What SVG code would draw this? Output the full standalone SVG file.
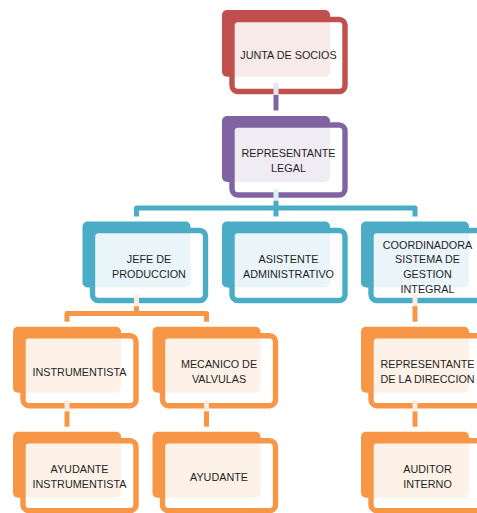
<svg xmlns="http://www.w3.org/2000/svg" width="477" height="513" viewBox="0 0 477 513">
<style>
.bk{stroke:none}
.fr{fill:#fff;fill-opacity:0.88;stroke-width:5.4}
.r{fill:#C0504D;stroke:#C0504D}
.p{fill:#8064A2;stroke:#8064A2}
.t{fill:#4BACC6;stroke:#4BACC6}
.o{fill:#F79646;stroke:#F79646}
text{font-family:"Liberation Sans",Arial,sans-serif;font-size:10.8px;fill:#1e1e1e;stroke:none;text-anchor:middle}
.c{fill:none;stroke-width:5;stroke-linejoin:round}
</style>
<defs>
<rect id="b" class="bk" width="108" height="66" rx="5"/>
<rect id="f" class="fr" x="10" y="9" width="113" height="70" rx="6"/>
</defs>

<g id="n-junta" class="r" transform="translate(222,10)">
<rect class="bk" width="108" height="66.7" rx="5"/>
<rect class="fr" x="10" y="9.5" width="113" height="72" rx="6"/>
<text x="66.5" y="48.9">JUNTA DE SOCIOS</text>
</g>
<g id="n-replegal" class="p" transform="translate(222,116)">
<use href="#b"/><use href="#f"/>
<text x="66.5" y="41.4">REPRESENTANTE</text>
<text x="66.5" y="56.4">LEGAL</text>
</g>
<g id="n-jefe" class="t" transform="translate(82.5,221.5)">
<use href="#b"/><use href="#f"/>
<text x="66.5" y="41.4">JEFE DE</text>
<text x="66.5" y="56.4">PRODUCCION</text>
</g>
<g id="n-asistente" class="t" transform="translate(222,221.5)">
<use href="#b"/><use href="#f"/>
<text x="66.5" y="41.4">ASISTENTE</text>
<text x="66.5" y="56.4">ADMINISTRATIVO</text>
</g>
<g id="n-coord" class="t" transform="translate(361,221.5)">
<use href="#b"/><use href="#f"/>
<text x="66.5" y="27.1">COORDINADORA</text>
<text x="66.5" y="41.8">SISTEMA DE</text>
<text x="66.5" y="56.5">GESTION</text>
<text x="66.5" y="71.2">INTEGRAL</text>
</g>
<g id="n-instr" class="o" transform="translate(13,326.7)">
<use href="#b"/><use href="#f"/>
<text x="66.5" y="48.9">INSTRUMENTISTA</text>
</g>
<g id="n-mecanico" class="o" transform="translate(152.5,326.7)">
<use href="#b"/><use href="#f"/>
<text x="66.5" y="41.4">MECANICO DE</text>
<text x="66.5" y="56.4">VALVULAS</text>
</g>
<g id="n-repdir" class="o" transform="translate(361,326.7)">
<use href="#b"/><use href="#f"/>
<text x="66.5" y="41.4">REPRESENTANTE</text>
<text x="66.5" y="56.4">DE LA DIRECCION</text>
</g>
<g id="n-ayudinstr" class="o" transform="translate(13,431.7)">
<use href="#b"/><use href="#f"/>
<text x="66.5" y="41.4">AYUDANTE</text>
<text x="66.5" y="56.4">INSTRUMENTISTA</text>
</g>
<g id="n-ayudante" class="o" transform="translate(152.5,431.7)">
<use href="#b"/><use href="#f"/>
<text x="66.5" y="48.9">AYUDANTE</text>
</g>
<g id="n-auditor" class="o" transform="translate(361,431.7)">
<use href="#b"/><use href="#f"/>
<text x="66.5" y="41.4">AUDITOR</text>
<text x="66.5" y="56.4">INTERNO</text>
</g>

<g id="connectors">
<rect x="273.5" y="83" width="5" height="12" fill="#E8E3EE"/>
<path class="c" stroke="#8064A2" d="M276 95V110.5"/>
<rect x="273.5" y="189.7" width="5" height="11" fill="#DFF0F4"/>
<path class="c" stroke="#4BACC6" d="M136.5 216.5V208H415V216.5M276 200.7V216.5"/>
<rect x="134" y="295.2" width="5" height="11" fill="#FDECDE"/>
<path class="c" stroke="#F79646" d="M67 321.7V313.5H206.5V321.7M136.5 306.2V313.5"/>
<rect x="412.5" y="295.2" width="5" height="11" fill="#FDECDE"/>
<path class="c" stroke="#F79646" d="M415 306.2V321.7"/>
<rect x="64.5" y="400.4" width="5" height="11" fill="#FDECDE"/>
<path class="c" stroke="#F79646" d="M67 411.4V426.7"/>
<rect x="204" y="400.4" width="5" height="11" fill="#FDECDE"/>
<path class="c" stroke="#F79646" d="M206.5 411.4V426.7"/>
<rect x="412.5" y="400.4" width="5" height="11" fill="#FDECDE"/>
<path class="c" stroke="#F79646" d="M415 411.4V426.7"/>
</g>
</svg>
